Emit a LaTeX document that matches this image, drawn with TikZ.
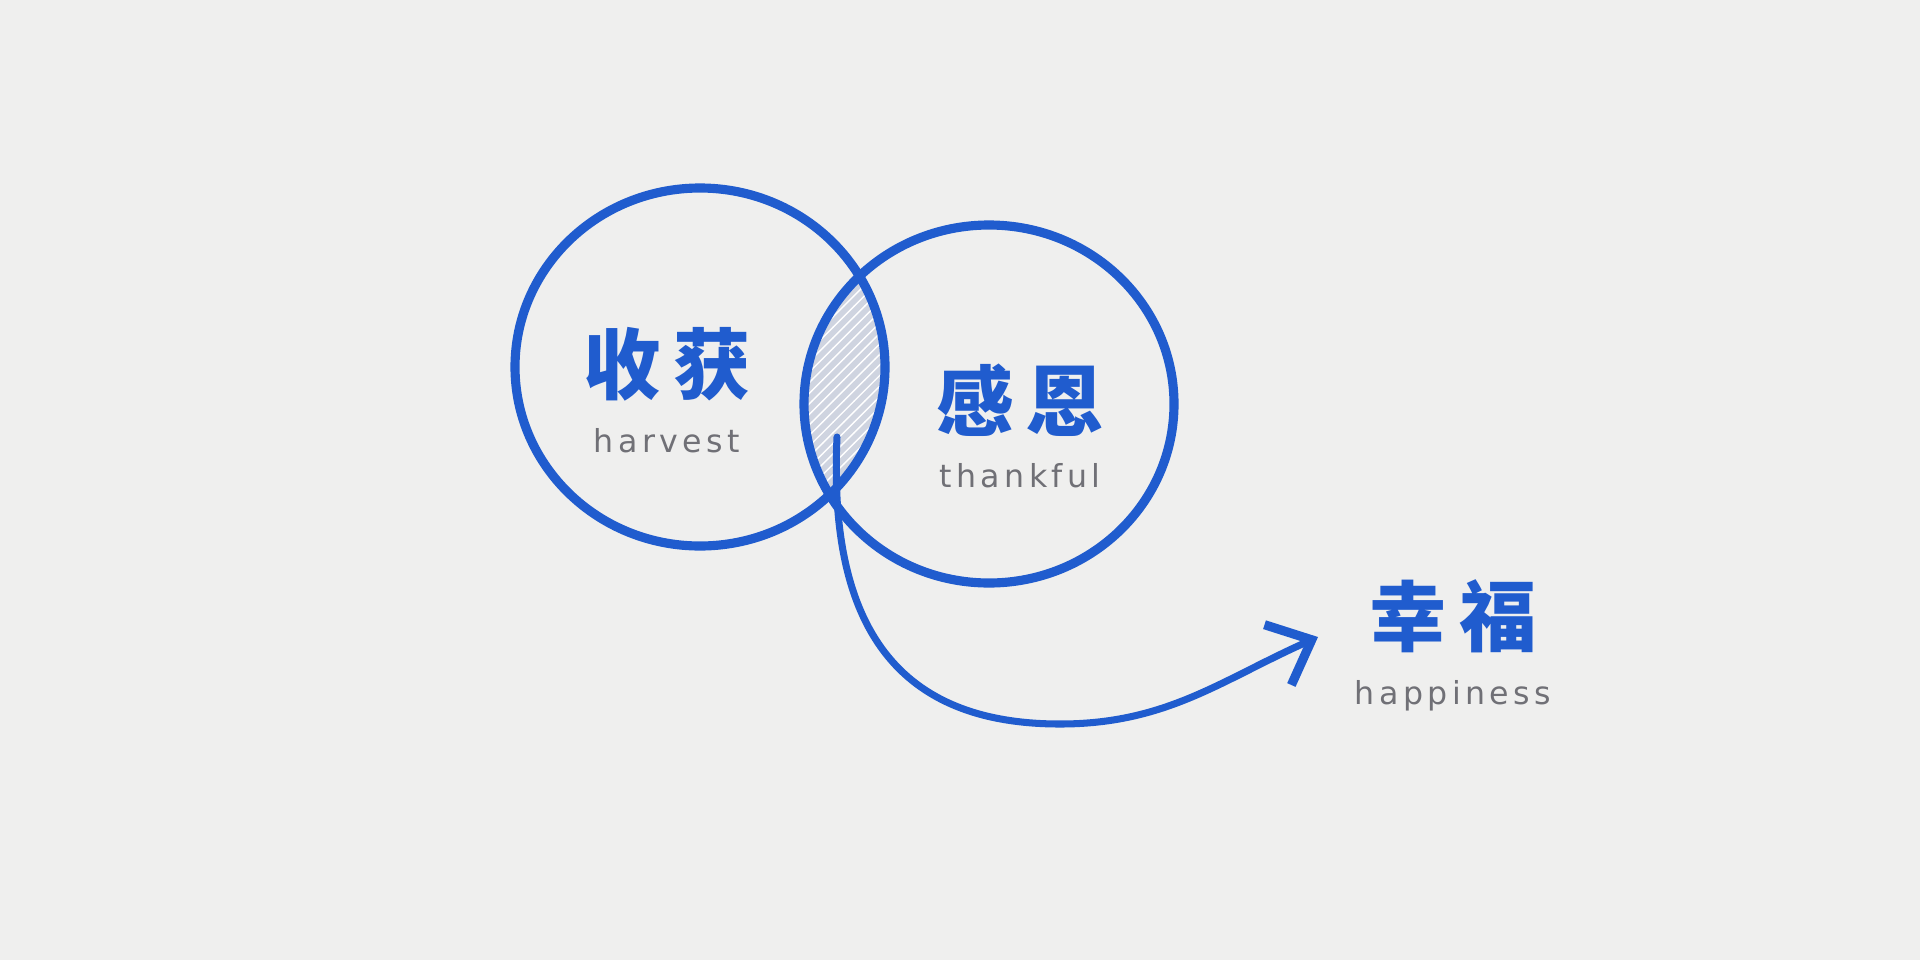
\documentclass[tikz,border=0pt]{standalone}
\usepackage{fontspec}
\newfontfamily\cjkfont{Noto Sans CJK SC}[LetterSpace=16]
\newfontfamily\labelfont{DejaVu Sans}[LetterSpace=14]
\usetikzlibrary{arrows.meta, positioning, shapes.geometric, patterns, calc}

\definecolor{paper}{RGB}{239,239,238}
\definecolor{inkBlue}{RGB}{32,92,206}
\definecolor{inkGray}{RGB}{112,112,118}
\definecolor{lensFill}{RGB}{207,212,224}

\tikzset{
  ring/.style = {
    draw=inkBlue,
    line width=2.6pt,
    ellipse,
    inner sep=0pt,
    minimum width=3.70cm,
    minimum height=3.58cm,
  },
  zhLabel/.style = {
    font=\cjkfont\bfseries\fontsize{22}{22}\selectfont,
    text=inkBlue,
    inner sep=0pt,
  },
  enLabel/.style = {
    font=\labelfont\fontsize{9}{9}\selectfont,
    text=inkGray,
    inner sep=0pt,
  },
  leadsTo/.style = {
    -{Straight Barb[length=3.7mm, width=6.6mm, line width=2.6pt]},
    draw=inkBlue,
    line width=2pt,
    line cap=round,
  },
  node distance=2.6mm,
}

\begin{document}
\begin{tikzpicture}
\fill[paper] (0,0) rectangle (19.2,9.6);

\coordinate (harvestMid) at (7.00,5.93);
\coordinate (thankMid) at (9.89,5.56);

\begin{scope}
  \clip (harvestMid) ellipse [x radius=1.85cm, y radius=1.79cm];
  \fill[lensFill] (thankMid) ellipse [x radius=1.85cm, y radius=1.79cm];
  \fill[pattern=north east lines, pattern color=white]
    (thankMid) ellipse [x radius=1.85cm, y radius=1.79cm];
\end{scope}

\node (harvestRing)[ring] at (harvestMid) {};
\node (thankRing)[ring] at (thankMid) {};

\node (harvest)[zhLabel] at (6.67,5.96) {收获};
\node (harvestEn)[enLabel, below=of harvest] {harvest};

\node (thank)[zhLabel] at (10.20,5.60) {感恩};
\node (thankEn)[enLabel, below=of thank] {thankful};

\node (happy)[zhLabel] at (14.53,3.44) {幸福};
\node (happyEn)[enLabel, below=of happy] {happiness};

\coordinate (arrowStart) at (8.37,5.23);
\coordinate (curveLow) at (10.60,2.36);

\draw[leadsTo] (arrowStart)
  .. controls (8.28,3.30) and (9.00,2.36) .. (curveLow)
  to[out=0, in=204] ([shift={(-1.35,-0.21)}]happy.center);

\end{tikzpicture}
\end{document}
